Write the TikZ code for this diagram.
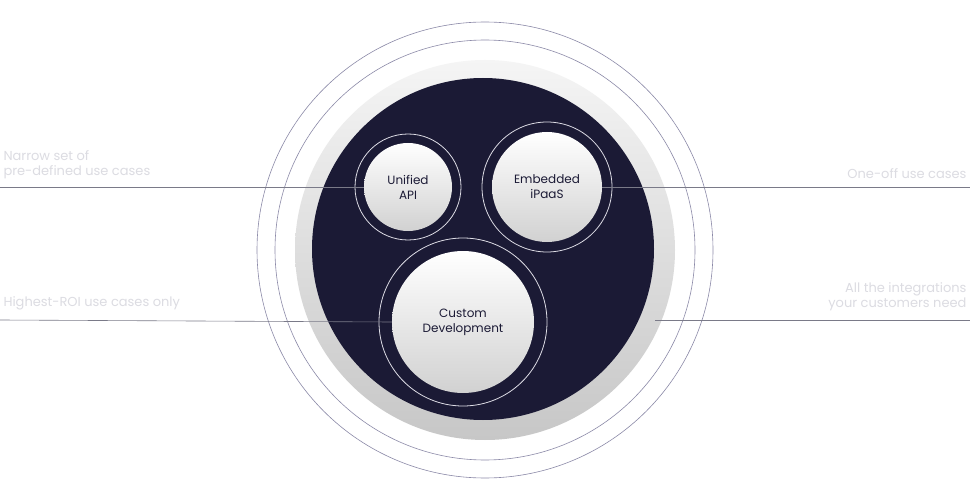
\documentclass[tikz,border=0pt]{standalone}
\usepackage{fontspec}
\setmainfont{Poppins}
\definecolor{ink}{HTML}{1B1A35}
\definecolor{ringline}{HTML}{8C8AA8}
\definecolor{labelgray}{HTML}{DCDCE2}
\definecolor{rulegray}{HTML}{7A7A88}
\begin{document}
\begin{tikzpicture}
  [x=1pt,y=-1pt,every node/.style={font=\fontsize{13}{15}\selectfont,text=labelgray}]
  \tikzstyle{bubble} = [circle,top color=white,bottom color=black!18,text=ink,
    align=center,font=\fontsize{12}{15}\selectfont,inner sep=0pt]
  \tikzstyle{halo} = [draw=white!70!ringline,line width=.8pt]
  \useasboundingbox[fill=white] (0,0) rectangle (970,500);
  % outer rings and discs
  \draw[ringline,line width=.6pt] (485,250) circle (228);
  \draw[ringline,line width=.6pt] (485,250) circle (210);
  \shade[top color=black!4,bottom color=black!22] (485,250) circle (190);
  \fill[ink] (483,249) circle (171);
  % bubbles
  \node[bubble,minimum size=88] (api) at (408,187) {Unified\\API};
  \node[bubble,minimum size=110] (ipaas) at (547,187) {Embedded\\iPaaS};
  \node[bubble,minimum size=142] (custom) at (463,322) {Custom\\Development};
  \draw[halo] (api) circle (53);
  \draw[halo] (ipaas) circle (65);
  \draw[halo] (custom) circle (84);
  % connectors
  \coordinate (l1) at (0,187);
  \coordinate (r1) at (970,187);
  \coordinate (l2) at (0,320);
  \coordinate (r2) at (970,320);
  \coordinate (d2) at (655,320);
  \foreach \source /\dest in {l1/api.west,ipaas.east/r1,l2/custom.west,d2/r2}
   \draw[rulegray,line width=.6pt] (\source) -- (\dest);
  % labels
  \node[anchor=south west,align=left] (narrow) at (0,182) {Narrow set of\\pre-defined use cases};
  \node[anchor=south west] (highest) at (0,314) {Highest-ROI use cases only};
  \node[anchor=south east] (oneoff) at (970,182) {One-off use cases};
  \node[anchor=south east,align=right] (allint) at (970,314) {All the integrations\\your customers need};
\end{tikzpicture}
\end{document}
